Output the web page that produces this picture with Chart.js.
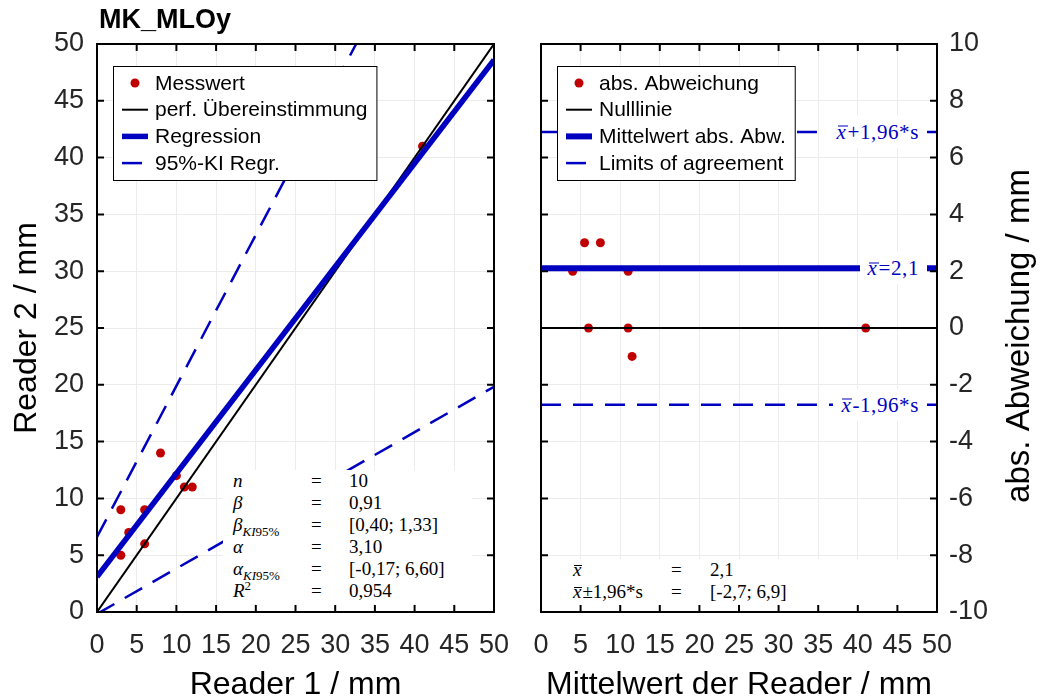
<!DOCTYPE html>
<html>
<head>
<meta charset="utf-8">
<script src="https://cdn.jsdelivr.net/npm/chart.js@4.4.0/dist/chart.umd.min.js"></script>
<style>
  body { margin: 0; background: #fff; }
  #wrap { position: relative; width: 1044px; height: 700px; overflow: hidden; font-family: "Liberation Sans", Arial, sans-serif; }
  canvas { position: absolute; top: 0; }
  #leftChart { left: 0; }
  #rightChart { left: 510px; }
  #title { position: absolute; left: 99px; top: 4px; font-weight: bold; font-size: 27px; color: #000; }
  .math { position: absolute; font-family: "Liberation Serif", "DejaVu Serif", serif; color: #000; background: #fff; }
  .stats { font-size: 19px; }
  .stats .row { position: absolute; left: 0; height: 22px; line-height: 22px; white-space: nowrap; }
  .stats .row span { position: absolute; top: 0; }
  .stats .row span span { position: relative; }
  .stats sub, .stats sup { font-size: 13px; line-height: 0; }
  .xbar { position: relative; font-style: italic; padding-right: 1px; }
  .xbar::before { content: ''; position: absolute; left: 1px; right: 0; top: 0.3em; border-top: 1px solid currentColor; }
  .lineLabel { font-size: 21px; letter-spacing: 0.6px; color: #0000c0; padding: 3px 8px; white-space: nowrap; transform: translateY(-50%); }
</style>
</head>
<body>
<div id="wrap">
  <canvas id="leftChart" width="534" height="700"></canvas>
  <canvas id="rightChart" width="534" height="700"></canvas>
  <div id="title">MK_MLOy</div>
  <div id="statsLeft" class="math stats"></div>
  <div id="statsRight" class="math stats"></div>
</div>
<script>
// Messwerte Reader 1 / Reader 2
const reader1 = [3, 3, 4, 6, 6, 8, 10, 11, 12, 41];
const reader2 = [5, 9, 7, 9, 6, 14, 12, 11, 11, 41];

// Bland-Altman Punkte (wie im Bild sichtbar)
const baMean = [4, 5.5, 7.5, 11, 6, 11, 11.5, 41];
const baDiff = [2, 3, 3, 2, 0, 0, -1, 0];

// Regression und Konfidenzintervall
const regAlpha = 3.10;
const regBeta = 0.91;
const ciAlpha = [-0.17, 6.60];
const ciBeta = [0.40, 1.33];
const rSquared = 0.954;

// Linien-Endpunkte bei x = 0 und x = 50
const lineX = [0, 50];
const perfY = [0, 50];
const regY = [3.1, 48.6];
const ciUpperY = [6.6, 73.1];
const ciLowerY = [-0.17, 19.83];

// Mittelwert und Limits of agreement
const meanDiff = 2.1;
const loa = [-2.7, 6.9];

const RED = '#c00000';
const BLUE = '#0000c0';
const GRID = '#ececec';
const TICKCOL = '#262626';

Chart.defaults.font.family = '"Liberation Sans", Arial, sans-serif';
Chart.defaults.color = TICKCOL;

const fmt = (v, d) => v.toFixed(d).replace('.', ',');
const pts = (xs, ys) => xs.map((x, i) => ({ x: x, y: ys[i] }));

// Rahmen mit nach innen zeigenden Ticks
const framePlugin = {
  id: 'frame',
  afterDatasetsDraw(chart) {
    const { ctx, chartArea: a, scales } = chart;
    const ys = scales.y;
    const xs = scales.x;
    const len = 7;
    ctx.save();
    ctx.strokeStyle = '#000';
    ctx.lineWidth = 2;
    ctx.beginPath();
    xs.ticks.forEach(t => {
      const px = xs.getPixelForValue(t.value);
      ctx.moveTo(px, a.bottom); ctx.lineTo(px, a.bottom - len);
      ctx.moveTo(px, a.top); ctx.lineTo(px, a.top + len);
    });
    ys.ticks.forEach(t => {
      const py = ys.getPixelForValue(t.value);
      ctx.moveTo(a.left, py); ctx.lineTo(a.left + len, py);
      ctx.moveTo(a.right, py); ctx.lineTo(a.right - len, py);
    });
    ctx.stroke();
    ctx.strokeRect(a.left, a.top, a.right - a.left, a.bottom - a.top);
    ctx.restore();
  }
};

// Legende im Plot, mit Rahmen
const boxLegend = {
  id: 'boxLegend',
  afterDraw(chart, args, opts) {
    const { ctx, chartArea: a } = chart;
    const items = chart.data.datasets.filter(d => d.label);
    ctx.save();
    ctx.font = '21px "Liberation Sans", Arial, sans-serif';
    let maxW = 0;
    items.forEach(d => { maxW = Math.max(maxW, ctx.measureText(d.label).width); });
    const x0 = a.left + 16, y0 = a.top + 22;
    const w = 42 + maxW + 9, h = 114;
    ctx.fillStyle = '#fff';
    ctx.fillRect(x0, y0, w, h);
    ctx.strokeStyle = '#000';
    ctx.lineWidth = 1;
    ctx.strokeRect(x0 + 0.5, y0 + 0.5, w, h);
    items.forEach((d, i) => {
      const cy = y0 + 17 + i * 26.7;
      if (d.showLine) {
        ctx.strokeStyle = d.borderColor;
        ctx.lineWidth = d.borderWidth;
        ctx.setLineDash(d.borderDash || []);
        ctx.beginPath();
        ctx.moveTo(x0 + 9, cy);
        ctx.lineTo(x0 + 35, cy);
        ctx.stroke();
        ctx.setLineDash([]);
      } else {
        ctx.fillStyle = d.backgroundColor;
        ctx.beginPath();
        ctx.arc(x0 + 22, cy, 4.5, 0, Math.PI * 2);
        ctx.fill();
      }
      ctx.fillStyle = '#000';
      ctx.textBaseline = 'middle';
      ctx.fillText(d.label, x0 + 42, cy + 1);
    });
    // rechter Achsentitel, von unten nach oben
    if (opts.rightTitle) {
      ctx.font = '33px "Liberation Sans", Arial, sans-serif';
      ctx.fillStyle = '#000';
      ctx.textAlign = 'center';
      ctx.textBaseline = 'middle';
      ctx.translate(chart.width - 24, (a.top + a.bottom) / 2 + 8);
      ctx.rotate(-Math.PI / 2);
      ctx.fillText(opts.rightTitle, 0, 0);
    }
    ctx.restore();
  }
};

const tickFont = { size: 27 };
const titleFont = { size: 32, lineHeight: 0.9 };

function xScale(title) {
  return {
    type: 'linear', min: 0, max: 50,
    ticks: { stepSize: 5, font: tickFont, padding: 17, maxRotation: 0, autoSkip: false },
    grid: { color: GRID, drawTicks: false },
    border: { display: false },
    title: { display: true, text: title, font: titleFont, color: '#000', padding: { top: 0, bottom: 0 } },
    afterFit: s => { s.height = 88; }
  };
}

// Linker Plot: Reader 1 vs Reader 2 (Plotflaeche x 97..494, y 44..612)
const leftChart = new Chart(document.getElementById('leftChart'), {
  type: 'scatter',
  data: {
    datasets: [
      { label: 'Messwert', data: pts(reader1, reader2), backgroundColor: RED, pointRadius: 4.5, pointBorderWidth: 0, order: 5 },
      { label: 'perf. Übereinstimmung', data: pts(lineX, perfY), showLine: true, borderColor: '#000', borderWidth: 2, pointRadius: 0, order: 4 },
      { label: 'Regression', data: pts(lineX, regY), showLine: true, borderColor: BLUE, borderWidth: 5.5, pointRadius: 0, order: 1 },
      { label: '95%-KI Regr.', data: pts(lineX, ciUpperY), showLine: true, borderColor: BLUE, borderWidth: 2.5, borderDash: [20, 12], pointRadius: 0, order: 2 },
      { label: '', data: pts(lineX, ciLowerY), showLine: true, borderColor: BLUE, borderWidth: 2.5, borderDash: [20, 12], pointRadius: 0, order: 2 }
    ]
  },
  options: {
    responsive: false,
    animation: false,
    devicePixelRatio: 1,
    layout: { padding: { top: 44, right: 40, left: 0, bottom: 0 } },
    plugins: { legend: { display: false }, tooltip: { enabled: false }, boxLegend: {} },
    scales: {
      x: xScale('Reader 1 / mm'),
      y: {
        type: 'linear', min: 0, max: 50,
        ticks: { stepSize: 5, font: tickFont, padding: 13 },
        grid: { color: GRID, drawTicks: false },
        border: { display: false },
        title: { display: true, text: 'Reader 2 / mm', font: { size: 32 }, color: '#000', padding: { top: 8, bottom: 0 } },
        afterFit: s => { s.width = 97; }
      }
    }
  },
  plugins: [framePlugin, boxLegend]
});

// Rechter Plot: Bland-Altman (Plotflaeche x 541..937)
const rOff = 510;
const rightChart = new Chart(document.getElementById('rightChart'), {
  type: 'scatter',
  data: {
    datasets: [
      { label: 'abs. Abweichung', data: pts(baMean, baDiff), backgroundColor: RED, pointRadius: 4.5, pointBorderWidth: 0, order: 5 },
      { label: 'Nulllinie', data: pts(lineX, [0, 0]), showLine: true, borderColor: '#000', borderWidth: 2, pointRadius: 0, order: 4 },
      { label: 'Mittelwert abs. Abw.', data: pts(lineX, [meanDiff, meanDiff]), showLine: true, borderColor: BLUE, borderWidth: 6, pointRadius: 0, order: 1 },
      { label: 'Limits of agreement', data: pts(lineX, [loa[1], loa[1]]), showLine: true, borderColor: BLUE, borderWidth: 2.5, borderDash: [20, 12], pointRadius: 0, order: 2 },
      { label: '', data: pts(lineX, [loa[0], loa[0]]), showLine: true, borderColor: BLUE, borderWidth: 2.5, borderDash: [20, 12], pointRadius: 0, order: 2 }
    ]
  },
  options: {
    responsive: false,
    animation: false,
    devicePixelRatio: 1,
    layout: { padding: { top: 44, right: 0, left: 31, bottom: 0 } },
    plugins: { legend: { display: false }, tooltip: { enabled: false }, boxLegend: { rightTitle: 'abs. Abweichung / mm' } },
    scales: {
      x: xScale('Mittelwert der Reader / mm'),
      y: {
        type: 'linear', position: 'right', min: -10, max: 10,
        ticks: { stepSize: 2, font: tickFont, padding: 12 },
        grid: { color: GRID, drawTicks: false },
        border: { display: false },
        afterFit: s => { s.width = 107; }
      }
    }
  },
  plugins: [framePlugin, boxLegend]
});

// Statistik-Kaesten (HTML, damit Indizes und Querstriche echt gesetzt sind)
function fillStats(el, rows, cols) {
  el.innerHTML = rows.map((r, i) =>
    `<div class="row" style="top:${i * 22}px">` +
    `<span style="left:${cols[0]}px">${r[0]}</span>` +
    `<span style="left:${cols[1]}px">=</span>` +
    `<span style="left:${cols[2]}px">${r[1]}</span></div>`).join('');
}

const xbar = '<span class="xbar">x</span>';

const sl = document.getElementById('statsLeft');
const la = leftChart.chartArea;
Object.assign(sl.style, { left: (la.left + 126) + 'px', top: '470px', width: '249px', height: '134px' });
fillStats(sl, [
  ['<i>n</i>', String(reader1.length)],
  ['<i>β</i>', fmt(regBeta, 2)],
  ['<i>β</i><sub><i>KI</i>95%</sub>', `[${fmt(ciBeta[0], 2)}; ${fmt(ciBeta[1], 2)}]`],
  ['<i>α</i>', fmt(regAlpha, 2)],
  ['<i>α</i><sub><i>KI</i>95%</sub>', `[${fmt(ciAlpha[0], 2)}; ${fmt(ciAlpha[1], 2)}]`],
  ['<i>R</i><sup>2</sup>', fmt(rSquared, 3)]
], [10, 88, 126]);

const sr = document.getElementById('statsRight');
const ra = rightChart.chartArea;
Object.assign(sr.style, { left: (rOff + ra.left + 4) + 'px', top: '559px', width: '388px', height: '46px' });
fillStats(sr, [
  [xbar, fmt(meanDiff, 1)],
  [xbar + '±1,96*s', `[${fmt(loa[0], 1)}; ${fmt(loa[1], 1)}]`]
], [28, 126, 165]);

// Beschriftungen an den Linien im rechten Plot
const wrap = document.getElementById('wrap');
[[loa[1], xbar + '+1,96*s'], [meanDiff, xbar + '=2,1'], [loa[0], xbar + '-1,96*s']].forEach(([v, html]) => {
  const d = document.createElement('div');
  d.className = 'math lineLabel';
  d.innerHTML = html;
  d.style.right = (1044 - (rOff + ra.right - 10)) + 'px';
  d.style.top = rightChart.scales.y.getPixelForValue(v) + 'px';
  wrap.appendChild(d);
});
</script>
</body>
</html>
